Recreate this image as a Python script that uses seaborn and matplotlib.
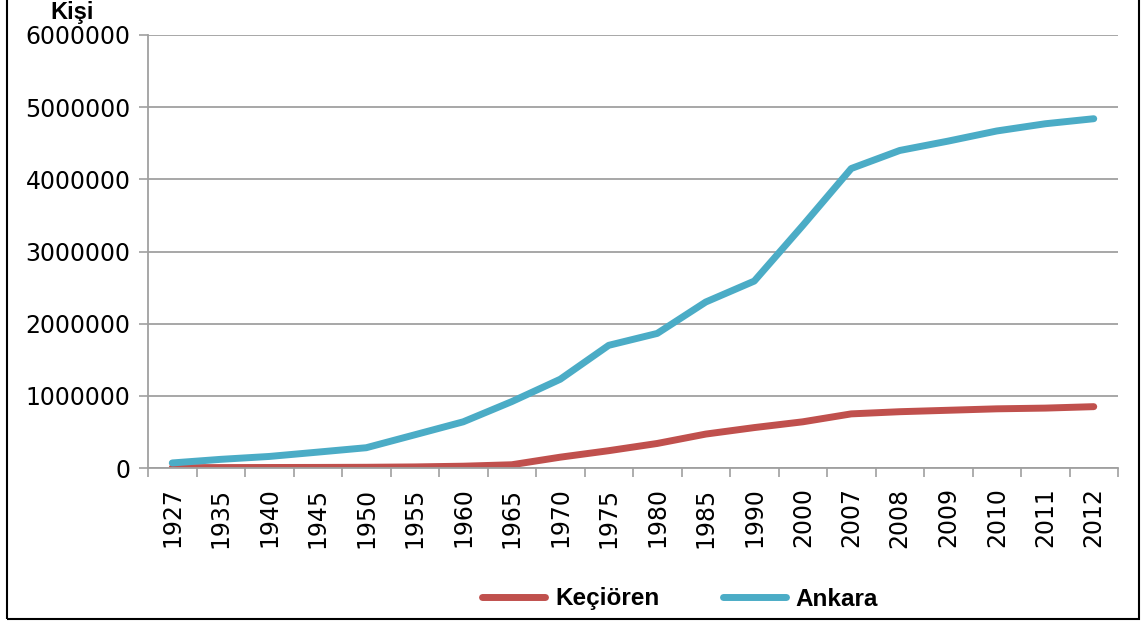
import matplotlib
matplotlib.use("Agg")
import matplotlib.pyplot as plt
import seaborn as sns
import pandas as pd
from matplotlib.patches import Rectangle
from matplotlib.ticker import FixedLocator
from matplotlib.lines import Line2D

years = ["1927", "1935", "1940", "1945", "1950", "1955", "1960", "1965", "1970", "1975",
         "1980", "1985", "1990", "2000", "2007", "2008", "2009", "2010", "2011", "2012"]
kecioren = [5000, 6000, 7000, 8000, 10000, 15000, 25000, 45000, 150000, 240000,
            340000, 470000, 560000, 640000, 750000, 780000, 800000, 820000, 830000, 850000]
ankara = [70000, 120000, 160000, 220000, 281000, 460000, 640000, 920000, 1230000, 1700000,
          1865000, 2300000, 2590000, 3360000, 4150000, 4400000, 4530000, 4670000, 4770000, 4840000]
series_names = ["Keçiören", "Ankara"]
yticks = [0, 1000000, 2000000, 3000000, 4000000, 5000000, 6000000]

df = pd.DataFrame({
    "Yıl": years * 2,
    "Nüfus": kecioren + ankara,
    "Seri": [series_names[0]] * len(years) + [series_names[1]] * len(years),
})

sns.set_style("white")
plt.rcParams["font.family"] = ["DejaVu Sans"]
plt.rcParams["text.color"] = "black"
plt.rcParams["xtick.labelcolor"] = "black"
plt.rcParams["ytick.labelcolor"] = "black"

fig = plt.figure(figsize=(11.41, 6.21), dpi=100)
ax = fig.add_axes([148 / 1141, 1 - 468 / 621, (1118 - 148) / 1141, (468 - 35) / 621])

palette = {"Keçiören": "#C0504D", "Ankara": "#4BACC6"}
sns.lineplot(data=df, x="Yıl", y="Nüfus", hue="Seri", palette=palette, sort=False,
             linewidth=5, ax=ax, legend=False, solid_capstyle="round")

ax.set_xlim(-0.5, len(years) - 0.5)
ax.set_ylim(0, 6000000)
ax.set_yticks(yticks)
ax.set_yticklabels([str(v) for v in yticks], fontsize=17, color="black")
ax.set_xticks(range(len(years)))
ax.set_xticklabels(years, rotation=90, fontsize=17, color="black")
ax.xaxis.set_minor_locator(FixedLocator([i - 0.5 for i in range(len(years) + 1)]))
ax.tick_params(axis="x", which="major", length=0, pad=14)
ax.tick_params(axis="x", which="minor", length=6.5, width=1.2, color="#A0A0A0", direction="out", bottom=True)
ax.tick_params(axis="y", which="major", length=6.5, width=1.2, color="#A0A0A0", direction="out", pad=6, left=True)
ax.set_xlabel("")
ax.set_ylabel("")
ax.grid(axis="y", color="#A0A0A0", linewidth=1.3)
ax.grid(axis="x", visible=False)
ax.set_axisbelow(True)
for s in ["top", "right"]:
    ax.spines[s].set_visible(False)
for s in ["left", "bottom"]:
    ax.spines[s].set_color("#A0A0A0")
    ax.spines[s].set_linewidth(1.3)

fig.text(72 / 1141, 1 - 13 / 621, "Kişi", fontsize=17, fontweight="bold", color="black",
         ha="center", va="center", family=["Liberation Sans"])

handles = [Line2D([], [], color=palette[n], linewidth=5, solid_capstyle="round") for n in series_names]
fig.legend(handles, series_names, loc="center", bbox_to_anchor=(680 / 1141, 1 - 599 / 621),
           ncol=2, frameon=False, handlelength=2.6, columnspacing=2.6, handletextpad=0.4,
           prop={"family": "Liberation Sans", "weight": "bold", "size": 17.5})

fig.patches.append(Rectangle((6.5 / 1141, 2 / 621), (1139 - 6.5) / 1141, 1.0, transform=fig.transFigure,
                             fill=False, edgecolor="black", linewidth=1.5, clip_on=False))

fig.savefig("out.png", dpi=100)
